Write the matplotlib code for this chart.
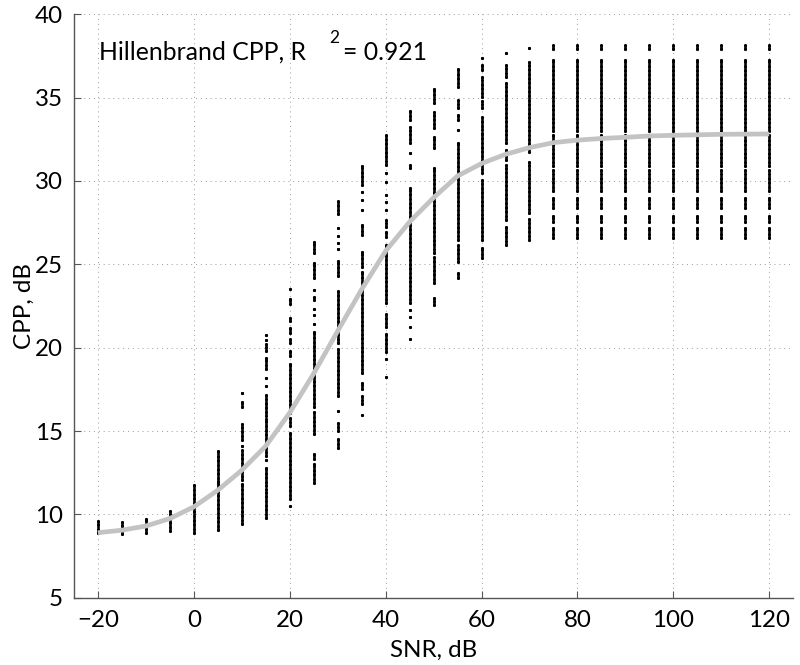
import matplotlib
matplotlib.use('Agg')
import matplotlib.pyplot as plt

plt.rcParams['font.family'] = ['Lato', 'DejaVu Sans']

# SNR levels (dB) of the scatter columns
snr = [-20, -15, -10, -5, 0, 5, 10, 15, 20, 25, 30, 35, 40, 45, 50,
       55, 60, 65, 70, 75, 80, 85, 90, 95, 100, 105, 110, 115, 120]

# CPP values, per column: runs of densely packed points (lo, hi);
# a run with lo == hi is a single isolated point
plateau = [(26.6, 27.2), (27.55, 27.9), (28.35, 28.95), (29.4, 30.65), (30.9, 32.75),
           (33.0, 37.25), (37.9, 38.15)]

cpp_runs = [
    [(8.9, 9.6)],
    [(8.85, 9.55)],
    [(8.9, 9.75)],
    [(9.0, 10.2)],
    [(8.9, 11.75)],
    [(9.05, 11.8), (11.95, 13.8)],
    [(9.45, 11.85), (12.05, 13.85), (14.1, 14.1), (14.45, 15.45), (16.45, 16.75), (17.3, 17.3)],
    [(9.8, 11.5), (11.7, 12.8), (13.25, 13.25), (13.5, 15.7), (15.9, 17.15), (17.7, 17.7),
     (18.2, 18.2), (18.7, 19.4), (19.8, 20.2), (20.45, 20.45), (20.75, 20.75)],
    [(10.5, 10.5), (10.9, 14.9), (15.3, 15.8), (16.1, 19.0), (19.5, 19.8), (20.3, 20.5),
     (20.9, 21.2), (21.6, 21.8), (22.6, 22.9), (23.5, 23.5)],
    [(11.9, 13.05), (13.3, 13.65), (14.85, 16.15), (16.45, 20.95), (21.45, 21.45),
     (21.95, 21.95), (22.35, 22.35), (22.85, 23.05), (23.45, 23.45), (24.15, 25.05), (25.7, 26.35)],
    [(14.0, 14.5), (15.0, 15.5), (16.2, 16.2), (17.1, 19.9), (20.3, 23.4), (24.3, 25.2),
     (25.9, 25.9), (26.3, 26.3), (26.7, 26.7), (27.2, 27.2), (28.0, 28.8)],
    [(15.95, 15.95), (16.65, 17.1), (17.5, 17.9), (18.5, 24.55), (24.85, 25.75), (26.75, 27.35),
     (28.25, 28.25), (28.85, 28.85), (29.35, 29.35), (29.75, 30.9)],
    [(18.25, 18.25), (19.35, 19.35), (19.75, 20.85), (21.25, 22.05), (22.65, 26.15),
     (26.65, 26.95), (27.25, 27.65), (28.25, 28.25), (28.75, 28.75), (29.15, 29.15),
     (29.95, 29.95), (30.45, 30.45), (30.95, 32.75)],
    [(20.55, 20.55), (21.25, 21.25), (21.85, 21.85), (22.25, 22.25), (22.65, 29.55),
     (30.75, 30.95), (31.65, 31.65), (32.25, 33.25), (33.65, 34.2)],
    [(22.55, 22.95), (23.85, 25.45), (25.65, 30.75), (31.95, 32.65), (33.15, 34.15), (34.65, 35.5)],
    [(24.15, 24.45), (25.15, 26.15), (26.45, 32.25), (33.05, 33.05), (33.65, 33.95),
     (34.35, 34.85), (35.65, 36.7)],
    [(25.35, 25.95), (26.45, 30.05), (30.45, 32.85), (33.05, 33.85), (34.4, 34.8),
     (35.05, 36.25), (36.65, 36.95), (37.35, 37.35)],
    [(26.15, 27.25), (27.65, 30.95), (31.25, 31.85), (32.25, 35.85), (36.25, 36.95), (37.7, 37.7)],
    [(26.45, 27.7), (28.1, 31.15), (31.75, 37.15), (37.95, 37.95)],
] + [plateau] * 10

# Sigmoid fit
fit_snr = snr
fit_cpp = [8.9, 9.05, 9.3, 9.75, 10.45, 11.45, 12.65, 14.1, 16.1, 18.45, 21.0, 23.5, 25.8,
           27.55, 29.0, 30.3, 31.05, 31.6, 32.0, 32.3, 32.45, 32.55, 32.62, 32.7, 32.74,
           32.77, 32.8, 32.81, 32.82]

fig = plt.figure(figsize=(8, 6.65), dpi=100)
ax = fig.add_axes([0.0925, 0.1012, 0.899, 0.8773])

# flatten runs for drawing
xs, lo, hi = [], [], []
for x, runs in zip(snr, cpp_runs):
    for a, b in runs:
        xs.append(x)
        lo.append(a)
        hi.append(b)

ax.vlines(xs, lo, hi, colors='black', linewidth=1.9, linestyles=(0, (1.3, 0.35)),
          capstyle='round', zorder=2)
ax.scatter(xs + xs, lo + hi, s=5, color='black', linewidths=0, zorder=2)

ax.plot(fit_snr, fit_cpp, color='#c3c3c3', linewidth=3.4, solid_capstyle='butt', zorder=3)

ax.set_xlim(-25, 125)
ax.set_ylim(5, 40)
ax.set_xticks(range(-20, 121, 20))
ax.set_yticks(range(5, 41, 5))
ax.grid(True, color='#9a9a9a', linestyle=(0, (1, 4)), linewidth=0.7)
ax.set_axisbelow(True)

for side in ['top', 'right']:
    ax.spines[side].set_visible(False)
for side in ['left', 'bottom']:
    ax.spines[side].set_color('#555555')
    ax.spines[side].set_linewidth(1.0)
ax.tick_params(direction='in', length=5, width=0.8, color='#555555', labelsize=17.4)
ax.tick_params(axis='x', pad=9)
ax.tick_params(axis='y', pad=8)

ax.set_xlabel('SNR, dB', fontsize=17.4, labelpad=6)
ax.set_ylabel('CPP, dB', fontsize=17.4)
ax.yaxis.set_label_coords(-0.055, 0.5)

ax.text(0.0348, 0.9217, 'Hillenbrand CPP, R', transform=ax.transAxes, fontsize=17.8, va='baseline')
ax.text(0.3547, 0.9508, '2', transform=ax.transAxes, fontsize=12.5, va='baseline')
ax.text(0.3741, 0.9217, '= 0.921', transform=ax.transAxes, fontsize=17.8, va='baseline')

fig.savefig('out.png', dpi=100)
